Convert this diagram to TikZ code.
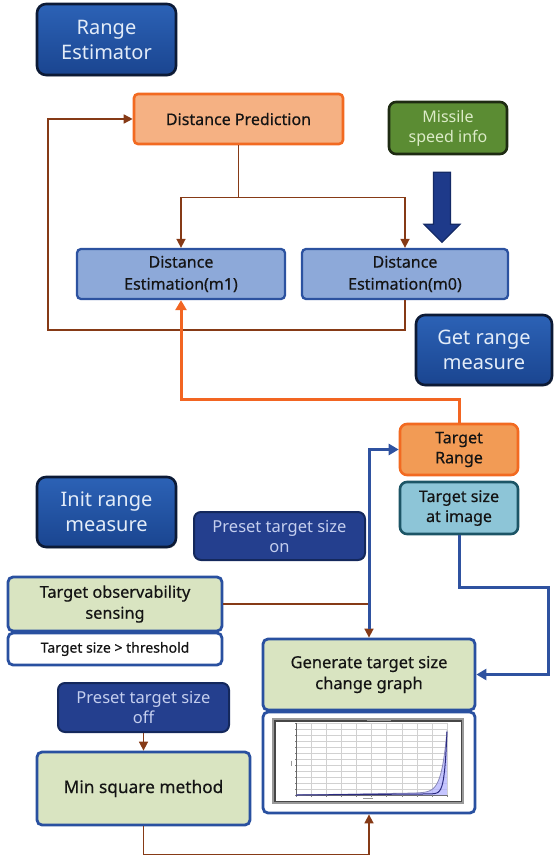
\documentclass[tikz,border=0pt]{standalone}
\usepackage{fontspec}
\setmainfont{Noto Sans}
\newfontfamily\darkfont[FakeBold=0.45]{Noto Sans}
\usetikzlibrary{arrows.meta,calc,shadows}

\definecolor{ttop}{HTML}{2C62B6}
\definecolor{tbot}{HTML}{1A4590}
\definecolor{tborder}{HTML}{0C1A36}
\definecolor{ttext}{HTML}{E3ECF8}
\definecolor{pfill}{HTML}{243F8E}
\definecolor{pborder}{HTML}{14285C}
\definecolor{ptext}{HTML}{C4CEEE}
\definecolor{msfill}{HTML}{5B8C33}
\definecolor{msborder}{HTML}{1E2B12}
\definecolor{mstext}{HTML}{DCEBC8}
\definecolor{dpfill}{HTML}{F5B183}
\definecolor{orangeedge}{HTML}{F26A21}
\definecolor{mfill}{HTML}{8DA9D9}
\definecolor{mborder}{HTML}{2C52A0}
\definecolor{trfill}{HTML}{F29B55}
\definecolor{tsifill}{HTML}{8DC5D7}
\definecolor{tsiborder}{HTML}{1C5566}
\definecolor{gfill}{HTML}{D9E4C1}
\definecolor{gborder}{HTML}{2950A0}
\definecolor{brownln}{HTML}{863A16}
\definecolor{orangeln}{HTML}{F26522}
\definecolor{blueln}{HTML}{2F52A0}
\definecolor{arrfill}{HTML}{1E3A8A}
\definecolor{arrborder}{HTML}{142A66}
\definecolor{curvecol}{HTML}{2A2A80}
\definecolor{darktext}{HTML}{141414}

\begin{document}
\begin{tikzpicture}[x=1pt,y=-1pt,
  every node/.style={inner sep=0pt, align=center},
  fs/.style n args={2}{font=\fontsize{#1}{#2}\selectfont},
  dfs/.style n args={2}{font=\darkfont\fontsize{#1}{#2}\selectfont, text=darktext},
  titlebox/.style={draw=tborder, line width=2.6pt, rounded corners=9pt,
    top color=ttop, bottom color=tbot, text=ttext, fs={20}{25},
    drop shadow={opacity=0.35, shadow xshift=1pt, shadow yshift=-1.5pt}},
  presetbox/.style={draw=pborder, line width=2pt, rounded corners=7pt,
    fill=pfill, text=ptext, fs={16.5}{20}},
  speedbox/.style={draw=msborder, line width=2.6pt, rounded corners=7pt,
    fill=msfill, text=mstext, fs={16}{20}},
  predbox/.style={draw=orangeedge, line width=2.6pt, rounded corners=4pt,
    fill=dpfill, dfs={16}{19}},
  estbox/.style={draw=mborder, line width=2.3pt, rounded corners=4pt,
    fill=mfill, dfs={16}{22}},
  rangebox/.style={draw=orangeedge, line width=2.6pt, rounded corners=7pt,
    fill=trfill, dfs={16}{20}},
  sizebox/.style={draw=tsiborder, line width=2.6pt, rounded corners=7pt,
    fill=tsifill, dfs={16}{20}},
  procbox/.style={draw=gborder, line width=2.8pt, rounded corners=5pt,
    fill=gfill, dfs={16.3}{21}},
  whitebox/.style={draw=gborder, line width=2.8pt, rounded corners=5pt,
    fill=white},
  brownline/.style={draw=brownln, line width=1.6pt},
  orangeline/.style={draw=orangeln, line width=3pt},
  blueline/.style={draw=blueln, line width=3pt},
  btip/.style={-{Triangle[length=9pt,width=9pt]}},
  otip/.style={-{Triangle[length=10pt,width=11pt]}},
  bigarrow/.style={fill=arrfill, draw=arrborder, line width=1.2pt, line join=miter}
]
\useasboundingbox (0,0) rectangle (554,859);

% ---- estimator part ----
\node[titlebox, minimum width=139pt, minimum height=71pt] (re) at (106.5,39.5) {Range\\Estimator};
\node[predbox, minimum width=209pt, minimum height=50pt] (dp) at (238.5,119) {Distance Prediction};
\node[speedbox, minimum width=118pt, minimum height=52pt] (ms) at (448,128) {Missile\\speed info};
\node[estbox, minimum width=208pt, minimum height=50pt] (m1) at (181,274) {Distance\\Estimation(m1)};
\node[estbox, minimum width=206pt, minimum height=50pt] (m0) at (405,274) {Distance\\Estimation(m0)};
\node[titlebox, minimum width=136pt, minimum height=70pt] (grm) at (484,350) {Get range\\measure};

% ---- measurement part ----
\node[rangebox, minimum width=118pt, minimum height=51pt] (tr) at (459,449.5) {Target\\Range};
\node[sizebox, minimum width=118pt, minimum height=52pt] (tsi) at (459,508) {Target size\\at image};
\node[titlebox, minimum width=139pt, minimum height=70pt] (irm) at (106.5,512) {Init range\\measure};
\node[presetbox, minimum width=171pt, minimum height=48pt] (pon) at (279.5,536) {Preset target size\\on};
\node[procbox, minimum width=214pt, minimum height=54pt] (tos) at (115,604) {Target observability\\sensing};
\node[whitebox, minimum width=214pt, minimum height=32pt, dfs={14}{16}] (thr) at (115,649) {Target size > threshold};
\node[procbox, minimum width=171pt, minimum height=49pt, presetbox] (poff) at (143.5,707.5) {Preset target size\\off};
\node[procbox, minimum width=213pt, minimum height=73pt, dfs={17.3}{21}] (msm) at (143.5,788.5) {Min square method};
\node[procbox, minimum width=212pt, minimum height=71pt, dfs={16.5}{21}] (gen) at (369,674.5) {Generate target size\\change graph};
\node[whitebox, minimum width=212pt, minimum height=101pt] (genimg) at (369,762.5) {};

% ---- small chart inside the graph box ----
\begin{scope}[shift={(genimg.center)}]
  \fill[black!40] (-97,-44.5) rectangle (95,41.5);
  \fill[black!72] (-95,-42.5) rectangle (93,39.5);
  \fill[white] (-93.5,-41) rectangle (91.5,38);
  % grid
  \foreach \i in {1,...,10} {
    \draw[black!18, line width=0.35pt] ({-73+15.1*\i},-39.5) -- ({-73+15.1*\i},32.5);
  }
  \foreach \j in {0,...,11} {
    \draw[black!18, line width=0.35pt] (-73,{-39.5+6*\j}) -- (78,{-39.5+6*\j});
  }
  \draw[black!60, line width=0.4pt] (-73,-39.5) -- (-73,32.5) -- (78,32.5);
  \foreach \i in {0,...,10} {
    \draw[black!50, line width=0.3pt] ({-73+15.1*\i},32.5) -- ({-73+15.1*\i},34);
  }
  \foreach \j in {0,...,12} {
    \draw[black!50, line width=0.3pt] (-73,{-39.5+6*\j}) -- (-74.5,{-39.5+6*\j});
  }
  \draw[black!40, line width=0.5pt] (-2,-42) -- (22,-42);
  \draw[black!40, line width=0.5pt] (-6,35.5) -- (4,35.5);
  \draw[black!40, line width=0.5pt] (-78,-2) -- (-78,3);
  % curve band
  \fill[blue!30!white, opacity=0.75]
    plot[domain=-73:78, samples=120, smooth] (\x, {32.5-2.5*((\x+73)/151)-62*((\x+73)/151)^28})
    -- (78,32.5) -- cycle;
  \draw[curvecol!55, line width=0.8pt]
    plot[domain=-73:78, samples=120, smooth] (\x, {32.5-2.5*((\x+73)/151)-62*((\x+73)/151)^28});
  \draw[curvecol, line width=1pt]
    plot[domain=-73:78, samples=120, smooth] (\x, {32.5-1.2*((\x+73)/151)-62*((\x+73)/151)^60});
\end{scope}

% ---- connectors: estimator loop ----
\draw[brownline] (dp.south) -- ++(0,52) coordinate (split);
\draw[brownline, btip] (split) -| (m1.north);
\draw[brownline, btip] (split) -| (m0.north);
\coordinate (loopL) at (48,330);
\draw[brownline, btip] (m0.south) |- (loopL) |- (dp.west);

% block arrow from the speed info down to m0
\coordinate (ba) at ($(ms.south)+(-6,17)$);
\draw[bigarrow] ($(ba)+(-8.5,0)$) -- ($(ba)+(8.5,0)$) -- ($(ba)+(8.5,52)$)
  -- ($(ba)+(18,52)$) -- ($(ba)+(0,70)$) -- ($(ba)+(-18,52)$)
  -- ($(ba)+(-8.5,52)$) -- cycle;

% target range feeds the estimator
\draw[orangeline, otip] (tr.north) -- ++(0,-23) -| (m1.south);

% ---- connectors: measurement part ----
\draw[brownline, btip] (tos.east) -| (gen.north);
\draw[blueline, otip] ($(gen.north)+(0,-9)$) |- (tr.west);
\coordinate (rb) at (548,587);
\draw[blueline, otip] (tsi.south) |- (rb) |- (gen.east);
\draw[brownline] ($(thr.south)+(2,0)$) -- ($(thr.south)+(2,0)$ |- poff.north);
\draw[brownline, btip] (poff.south) -- (msm.north);
\draw[brownline, btip] (msm.south) -- ++(0,28) -| (genimg.south);
\end{tikzpicture}
\end{document}
